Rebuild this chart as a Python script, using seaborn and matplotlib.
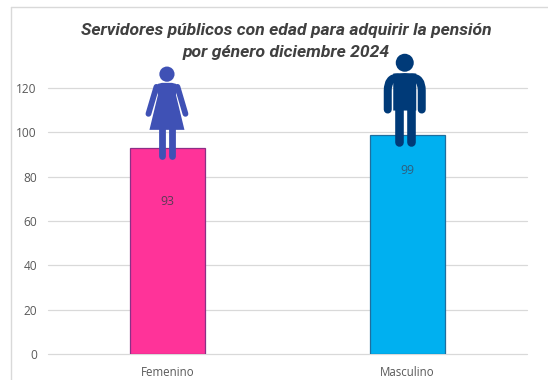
import matplotlib
matplotlib.use("Agg")
import matplotlib.pyplot as plt
import matplotlib.patches as mpatches
from matplotlib.lines import Line2D
from matplotlib.path import Path
from matplotlib.transforms import Affine2D
import pandas as pd
import seaborn as sns

# Values
generos = ["Femenino", "Masculino"]
servidores = [93, 99]
ticks_y = [0, 20, 40, 60, 80, 100, 120]
titulo = ["Servidores públicos con edad para adquirir la pensión",
          "por género diciembre 2024"]

# Style
COLOR_BARRAS = ["#FF3399", "#00B0F0"]
BORDE_BARRAS = ["#8C2F86", "#1F6E9E"]
COLOR_MUJER = "#3F51B5"
COLOR_HOMBRE = "#003A78"
ETIQUETA_Y = [69, 83]
W, H = 548, 380

sns.set_theme(style="white")
plt.rcParams["font.family"] = ["Open Sans", "DejaVu Sans"]

fig = plt.figure(figsize=(W / 100, H / 100), dpi=100, facecolor="white")
ax = fig.add_axes([48 / W, 1 - 354 / H, 479 / W, 266 / H])

df = pd.DataFrame({"genero": generos, "servidores": servidores})
sns.barplot(data=df, x="genero", y="servidores", hue="genero", palette=COLOR_BARRAS,
            width=0.313, legend=False, saturation=1, ax=ax, zorder=3)
for barra, borde in zip(ax.patches, BORDE_BARRAS):
    barra.set_edgecolor(borde)
    barra.set_linewidth(0.9)

ax.set_xlim(-0.5, 1.5)
ax.set_ylim(0, 120)
ax.set_yticks(ticks_y)
ax.set_xlabel("")
ax.set_ylabel("")
ax.grid(axis="y", color="#D9D9D9", linewidth=0.9, zorder=0, clip_on=False)
ax.set_axisbelow(True)
for s in ax.spines.values():
    s.set_visible(False)
ax.tick_params(axis="y", length=0, pad=8, labelsize=8.6, labelcolor="#595959")
ax.tick_params(axis="x", length=0, pad=9, labelsize=8.3, labelcolor="#595959")

# Value labels inside the bars
for i, (v, y) in enumerate(zip(servidores, ETIQUETA_Y)):
    ax.text(i, y, str(v), ha="center", va="center", fontsize=8.8,
            color="#5A3A55" if i == 0 else "#2F5F7F", zorder=6)


def pictograma(i, valor, piezas):
    """Adds a figure built in pixel units, anchored at the top centre of a bar."""
    x0, y0 = ax.transData.transform((i, valor))
    tr = Affine2D().translate(x0, y0)
    for p in piezas:
        p.set_transform(tr)
        p.set_clip_on(False)
        p.set_zorder(5)
        ax.add_artist(p)


def trazo(puntos, codigos, color, ancho):
    return mpatches.PathPatch(Path(puntos, codigos), facecolor="none", edgecolor=color,
                              linewidth=ancho * 72 / 100, capstyle="round", joinstyle="round")


def silueta_mujer(c):
    cx = -0.8
    M, L = Path.MOVETO, Path.LINETO
    vertices = [(-5, 65), (5, 65), (9, 64), (11, 60), (9, 53), (17.5, 18), (-17.5, 18),
                (-9, 53), (-11, 60), (-9, 64), (-5, 65)]
    vestido = Path([(x + cx, y) for x, y in vertices])
    piezas = [
        mpatches.Circle((cx, 73.7), 7.6, color=c, lw=0),
        mpatches.PathPatch(vestido, facecolor=c, lw=0),
        trazo([(cx - 10.5, 61), (cx - 18.5, 34)], [M, L], c, 5.8),
        trazo([(cx + 10.5, 61), (cx + 18.5, 34)], [M, L], c, 5.8),
        trazo([(cx - 4.6, 20), (cx - 4.6, -8)], [M, L], c, 6.8),
        trazo([(cx + 4.6, 20), (cx + 4.6, -8)], [M, L], c, 6.8),
    ]
    return piezas


def silueta_hombre(c):
    cx = -2.5
    M, L, Q = Path.MOVETO, Path.LINETO, Path.CURVE3
    torso = [(-11.5, 24), (-11.5, 50), (-11.5, 61), (0, 61.5), (11.5, 61), (11.5, 50), (11.5, 24), (-11.5, 24)]
    piezas = [
        mpatches.Circle((cx, 71.8), 9, color=c, lw=0),
        mpatches.PathPatch(Path([(x + cx, y) for x, y in torso]), facecolor=c, lw=0),
        trazo([(cx - 7, 57), (cx - 17, 57), (cx - 17, 44), (cx - 17, 25)], [M, Q, Q, L], c, 8),
        trazo([(cx + 7, 57), (cx + 17, 57), (cx + 17, 44), (cx + 17, 25)], [M, Q, Q, L], c, 8),
        trazo([(cx - 6, 28), (cx - 6, -7.5)], [M, L], c, 8.6),
        trazo([(cx + 6.5, 28), (cx + 6.5, -7.5)], [M, L], c, 8.6),
    ]
    return piezas


pictograma(0, servidores[0], silueta_mujer(COLOR_MUJER))
pictograma(1, servidores[1], silueta_hombre(COLOR_HOMBRE))

# Title
for linea, y_px in zip(titulo, [30, 52]):
    fig.text(286 / W, 1 - y_px / H, linea, ha="center", va="center",
             family=["Roboto", "DejaVu Sans"], fontsize=12.6, fontweight="bold",
             fontstyle="italic", color="#404040")

# Outer frame of the chart area
fig.add_artist(Line2D([11 / W, 11 / W], [0, 1 - 7 / H], color="#D9D9D9", linewidth=1.0))
fig.add_artist(Line2D([11 / W, 1], [1 - 7 / H, 1 - 7 / H], color="#D9D9D9", linewidth=1.0))

fig.savefig("out.png", dpi=100, facecolor="white")
